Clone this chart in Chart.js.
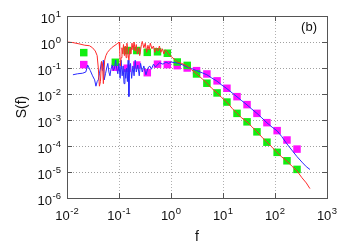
<!DOCTYPE html>
<html>
<head>
<meta charset="utf-8">
<script src="https://cdn.jsdelivr.net/npm/chart.js@4/dist/chart.umd.min.js"></script>
<style>
html,body{margin:0;padding:0;background:#fff;}
#wrap{width:346px;height:247px;}
</style>
</head>
<body>
<div id="wrap"><canvas id="c" width="346" height="247"></canvas></div>
<script>
// ---- data ----
const xTickValues = [0.01, 0.1, 1, 10, 100, 1000];
const yTickValues = [1e-6, 1e-5, 1e-4, 1e-3, 1e-2, 1e-1, 1, 10];

const redF = [0.010,0.013,0.017,0.022,0.027,0.031,0.035,0.038,0.040,0.042,0.044,0.046,0.048,0.050,0.053,0.056,0.060,0.066,0.072,0.080,0.088,0.095,0.100,0.103,0.106,0.110,0.114,0.118,0.122,0.127,0.132,0.137,0.142,0.148,0.155,0.162,0.170,0.178,0.186,0.195,0.205,0.215,0.225,0.24,0.25,0.27,0.28,0.30,0.32,0.34,0.36,0.38,0.40,0.43,0.46,0.49,0.52,0.56,0.60,0.64,0.68,0.73,0.78,0.85,0.92,1.0,1.15,1.32,1.6,2.05,2.5,3.1,4.0,4.9,6.0,7.7,9.5,11.9,15,18.6,23,29,36,45,56,70,88,110,135,170,210,265,330,400,470];
const redS = [1.0,0.95,0.85,0.75,0.72,0.6,0.45,0.3,0.1,0.02,0.03,0.18,0.15,0.025,0.2,0.3,0.4,0.5,0.6,0.7,0.8,0.9,1.0,0.55,0.12,0.25,0.6,0.35,0.8,0.3,0.7,0.25,0.9,0.4,0.2,0.6,0.35,0.9,0.5,1.0,0.45,0.8,0.35,0.6,0.3,0.8,1.05,0.6,0.9,0.4,0.75,0.5,0.9,0.55,0.7,0.4,0.6,0.45,0.7,0.4,0.55,0.35,0.5,0.4,0.32,0.28,0.22,0.17,0.15,0.12,0.085,0.06,0.038,0.026,0.017,0.011,0.0072,0.0048,0.0028,0.0018,0.0012,8.4e-4,5.5e-4,3.5e-4,2.2e-4,1.4e-4,9e-5,5.6e-5,3.8e-5,2.6e-5,1.7e-5,1.1e-5,6e-6,3.8e-6,2.3e-6];

const blueF = [0.013,0.016,0.020,0.023,0.025,0.028,0.031,0.034,0.036,0.038,0.040,0.042,0.044,0.046,0.048,0.050,0.052,0.055,0.058,0.061,0.064,0.067,0.070,0.074,0.078,0.082,0.086,0.090,0.095,0.100,0.105,0.110,0.115,0.120,0.125,0.130,0.135,0.140,0.145,0.150,0.155,0.160,0.167,0.175,0.185,0.195,0.205,0.215,0.230,0.245,0.26,0.28,0.30,0.33,0.36,0.39,0.42,0.46,0.50,0.55,0.60,0.70,0.80,0.90,1.0,1.2,1.4,1.7,2.0,2.5,3.1,4.0,4.9,6.0,7.7,9.5,11.9,15,18.6,23,29,36,45,56,70,88,110,135,170,210,265,330,400,470];
const blueS = [0.055,0.06,0.063,0.07,0.13,0.08,0.05,0.035,0.02,0.03,0.035,0.06,0.1,0.17,0.08,0.2,0.035,0.06,0.1,0.15,0.07,0.05,0.09,0.13,0.08,0.1,0.2,0.1,0.06,0.15,0.04,0.2,0.05,0.12,0.025,0.09,0.04,0.1,0.03,0.2,0.008,0.1,0.15,0.04,0.12,0.05,0.2,0.07,0.13,0.05,0.15,0.07,0.12,0.055,0.1,0.12,0.09,0.14,0.11,0.13,0.16,0.14,0.17,0.15,0.17,0.16,0.15,0.13,0.11,0.095,0.079,0.065,0.055,0.042,0.031,0.022,0.016,0.011,0.0078,0.0055,0.0038,0.0026,0.0018,0.0012,7.8e-4,5.3e-4,3.8e-4,2.3e-4,1.2e-4,7e-5,3.9e-5,2.4e-5,1.6e-5,1.25e-5];

const markerF = [0.021,0.085,0.144,0.22,0.35,0.55,0.85,1.32,2.05,3.1,4.9,7.7,11.9,18.6,29,45,70,110,170,265];
const greenS = [0.39,0.166,0.47,0.47,0.40,0.42,0.37,0.17,0.126,0.059,0.026,0.011,0.0049,0.0018,8.5e-4,3.5e-4,1.4e-4,5.7e-5,2.7e-5,1.26e-5];
const magentaS = [0.135,0.107,0.098,0.13,0.066,0.14,0.135,0.123,0.10,0.079,0.059,0.032,0.0166,0.0079,0.0039,0.0018,7.9e-4,3.9e-4,1.7e-4,7.6e-5];

const panelLabel = '(b)';
const xTitle = 'f';
const yTitle = 'S(f)';

// ---- helpers ----
const pts = (xs, ys) => xs.map((x, i) => ({x: x, y: ys[i]}));
const expOf = v => String(Math.round(Math.log10(v)));

const FONT = "'Liberation Sans', Arial, sans-serif";
const MAIN_PX = 13, SUP_PX = 9.5, RAISE = 6;

function drawPow(ctx, v, x, baseline, align) {
  ctx.font = MAIN_PX + 'px ' + FONT;
  const wMain = ctx.measureText('10').width;
  ctx.font = SUP_PX + 'px ' + FONT;
  const e = expOf(v);
  const wSup = ctx.measureText(e).width;
  const total = wMain + wSup + 0.5;
  let x0 = align === 'right' ? x - total : x - total / 2;
  ctx.textAlign = 'left';
  ctx.textBaseline = 'alphabetic';
  ctx.font = MAIN_PX + 'px ' + FONT;
  ctx.fillText('10', x0, baseline);
  ctx.font = SUP_PX + 'px ' + FONT;
  ctx.fillText(e, x0 + wMain + 0.5, baseline - RAISE);
}

const framePlugin = {
  id: 'frame',
  afterDraw(chart) {
    const {ctx, chartArea: a, scales} = chart;
    ctx.save();
    ctx.strokeStyle = '#555';
    ctx.lineWidth = 1;
    const L = 5;
    ctx.beginPath();
    xTickValues.forEach(v => {
      const x = Math.round(scales.x.getPixelForValue(v)) + 0.5;
      ctx.moveTo(x, a.bottom); ctx.lineTo(x, a.bottom - L);
      ctx.moveTo(x, a.top); ctx.lineTo(x, a.top + L);
    });
    yTickValues.forEach(v => {
      const y = Math.round(scales.y.getPixelForValue(v)) + 0.5;
      ctx.moveTo(a.left, y); ctx.lineTo(a.left + L, y);
      ctx.moveTo(a.right, y); ctx.lineTo(a.right - L, y);
    });
    ctx.stroke();
    ctx.strokeRect(Math.round(a.left) + 0.5, Math.round(a.top) + 0.5, Math.round(a.right - a.left), Math.round(a.bottom - a.top));
    // tick labels with superscript exponents
    ctx.fillStyle = '#111';
    xTickValues.forEach(v => {
      drawPow(ctx, v, scales.x.getPixelForValue(v), a.bottom + 22, 'center');
    });
    yTickValues.forEach(v => {
      drawPow(ctx, v, a.left - 6, scales.y.getPixelForValue(v) + 7, 'right');
    });
    // panel label
    ctx.font = '13px ' + FONT;
    ctx.textAlign = 'right';
    ctx.textBaseline = 'middle';
    ctx.fillText(panelLabel, a.right - 10, a.top + 11);
    ctx.restore();
  }
};

new Chart(document.getElementById('c'), {
  type: 'scatter',
  data: {
    datasets: [
      {label: 'red', type: 'line', data: pts(redF, redS), borderColor: '#ff2a2a', borderWidth: 1, pointRadius: 0, fill: false, tension: 0, order: 1},
      {label: 'blue', type: 'line', data: pts(blueF, blueS), borderColor: '#2a2aff', borderWidth: 1, pointRadius: 0, fill: false, tension: 0, order: 1},
      {label: 'green', data: pts(markerF, greenS), pointStyle: 'rect', pointRadius: 5.3, backgroundColor: '#11ee11', borderWidth: 0, order: 2},
      {label: 'magenta', data: pts(markerF, magentaS), pointStyle: 'rect', pointRadius: 5.3, backgroundColor: '#ff11ff', borderWidth: 0, order: 3}
    ]
  },
  options: {
    responsive: false,
    animation: false,
    events: [],
    layout: {padding: {top: 16, right: 19, left: 0, bottom: 0}},
    plugins: {legend: {display: false}, tooltip: {enabled: false}},
    scales: {
      x: {
        type: 'logarithmic', min: 0.01, max: 1000,
        afterBuildTicks: s => { s.ticks = xTickValues.map(v => ({value: v})); },
        afterFit: s => { s.height = 49; },
        ticks: {display: false, autoSkip: false},
        grid: {color: '#b0b0b0', lineWidth: 1, drawTicks: false},
        border: {display: false, dash: [1, 2]},
        title: {display: true, text: xTitle, color: '#111', font: {family: FONT, size: 14}, padding: {top: 0, bottom: 1.6}}
      },
      y: {
        type: 'logarithmic', min: 1e-6, max: 10,
        afterBuildTicks: s => { s.ticks = yTickValues.map(v => ({value: v})); },
        afterFit: s => { s.width = 67; },
        ticks: {display: false, autoSkip: false},
        grid: {color: '#a0a0a0', lineWidth: 1, drawTicks: false},
        border: {display: false, dash: [1, 2]},
        title: {display: true, text: yTitle, color: '#111', font: {family: FONT, size: 14}, padding: {top: 13.6, bottom: 0}}
      }
    }
  },
  plugins: [framePlugin]
});
</script>
</body>
</html>
